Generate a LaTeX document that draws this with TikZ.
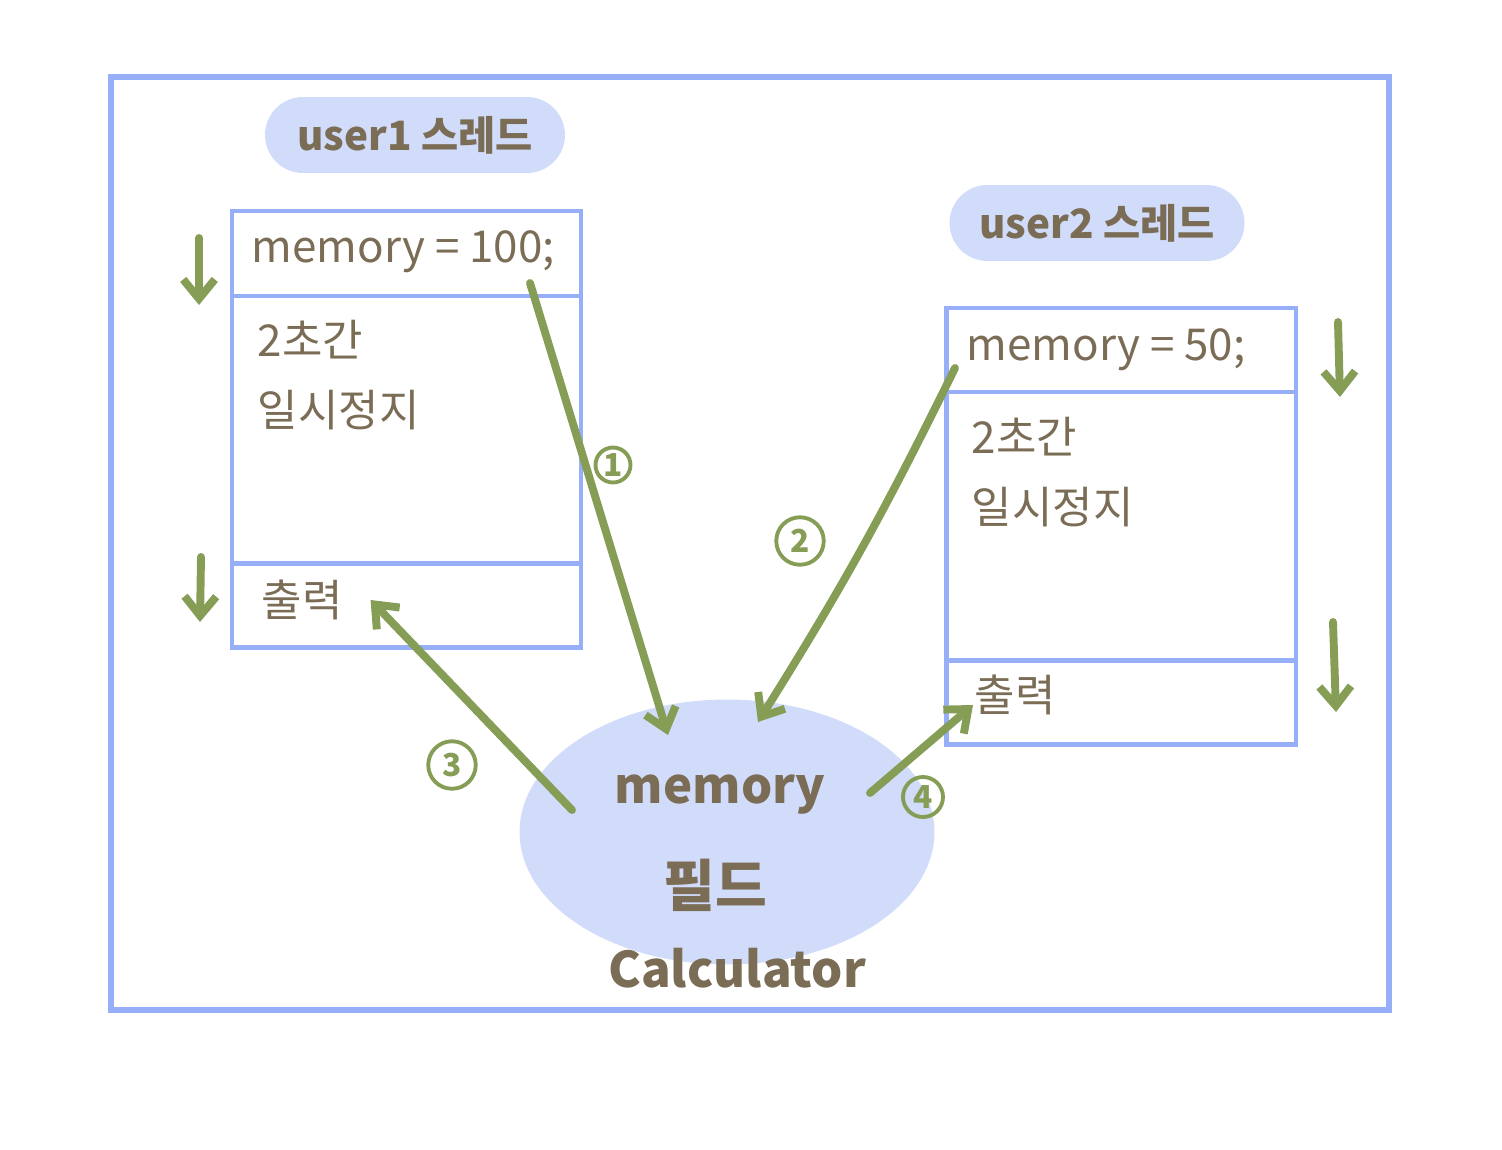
\documentclass[tikz,border=0pt]{standalone}
\usepackage{fontspec}
\setmainfont{Noto Sans CJK KR}
\usepackage{tikz}
\usetikzlibrary{shapes.geometric, positioning, calc, arrows.meta}
\definecolor{frame_blue}{RGB}{151, 174, 248}
\definecolor{soft_blue}{RGB}{209, 220, 250}
\definecolor{pen_green}{RGB}{134, 157, 86}
\definecolor{pen_brown}{RGB}{122, 108, 85}

\begin{document}
\begin{tikzpicture}[
        x=0.02cm, y=-0.02cm,
        every node/.style={inner sep=2pt, text=pen_brown},
        seg/.style={draw=frame_blue, line width=2.8pt, outer sep=0pt, minimum width=6.98cm},
        pill/.style={fill=soft_blue, rounded corners=0.76cm, minimum height=1.52cm, font=\fontsize{23}{28}\selectfont\bfseries},
        txt/.style={anchor=west, font=\fontsize{25}{30}\selectfont},
        big/.style={font=\fontsize{28}{34}\selectfont\bfseries},
        flow/.style={draw=pen_green, line width=4.5pt, line cap=round,
            -{Straight Barb[length=11pt, width=18pt, line width=4.5pt]}},
        num/.style={circle, draw=pen_green, line width=2.2pt, text=pen_green,
            inner sep=1pt, font=\fontsize{18}{20}\selectfont\bfseries}
    ]
        \useasboundingbox (0,0) rectangle (1502,1150);

        % -------- Cornice --------
        \draw[frame_blue, line width=3.4pt] (111,77) rectangle (1389,1010);

        % -------- Etichette dei thread --------
        \node[pill, minimum width=6.0cm] (user1) at (415,135) {user1 스레드};
        \node[pill, minimum width=5.9cm] (user2) at (1097,223) {user2 스레드};

        % -------- Thread 1 --------
        \node[seg, minimum height=1.7cm] (top1) at (406.5,253.5) {};
        \node[seg, minimum height=5.36cm, below=0pt of top1] (mid1) {};
        \node[seg, minimum height=1.68cm, below=0pt of mid1] (bot1) {};
        \node[txt] (set1) at (248,252) {memory = 100;};
        \node[txt] (wait1) at (254,340) {2초간};
        \node[txt] (pause1) at (254,410) {일시정지};
        \node[txt] (out1) at (258,600) {출력};

        % -------- Thread 2 --------
        \node[seg, minimum width=7cm, minimum height=1.68cm] (top2) at (1121,350) {};
        \node[seg, minimum width=7cm, minimum height=5.38cm, below=0pt of top2] (mid2) {};
        \node[seg, minimum width=7cm, minimum height=1.68cm, below=0pt of mid2] (bot2) {};
        \node[txt] (set2) at (963,350) {memory = 50;};
        \node[txt] (wait2) at (968,437) {2초간};
        \node[txt] (pause2) at (968,507) {일시정지};
        \node[txt] (out2) at (971,695) {출력};

        % -------- Campo condiviso --------
        \node[ellipse, fill=soft_blue, minimum width=8.3cm, minimum height=5.3cm] (mem) at (727,832) {};
        \node[big] (field) at (720,795) {memory};
        \node[big, font=\fontsize{32}{38}\selectfont\bfseries] (kind) at (715,885) {필드};
        \node[big] (cls) at (737,968) {Calculator};

        % -------- Frecce di esecuzione --------
        \coordinate (s1a) at (199,238); \coordinate (e1a) at (199,305);
        \coordinate (s1b) at (201,557); \coordinate (e1b) at (200,622);
        \coordinate (s2a) at (1338,322); \coordinate (e2a) at (1340,397);
        \coordinate (s2b) at (1333,622); \coordinate (e2b) at (1336,712);
        \foreach \s/\e in {s1a/e1a, s1b/e1b, s2a/e2a, s2b/e2b}{
            \draw[flow] (\s) -- (\e);
        }

        % -------- Accessi al campo --------
        \coordinate (w1) at (530,283);
        \coordinate (w2) at (955,368);
        \draw[flow] (w1) -- ($(mem.center)+(-59,-97)$);
        \draw[flow] (w2) to[bend left=3] ($(mem.center)+(31,-110)$);
        \draw[flow] ($(mem.center)+(-155,-22)$) -- ($(out1.east)+(24,0)$);
        \draw[flow] ($(mem.center)+(143,-39)$) -- ($(out2.west)+(2,10)$);

        \node[num, minimum size=0.7cm] (n1) at (613,465) {1};
        \node[num, minimum size=0.95cm] (n2) at (800,541) {2};
        \node[num, minimum size=0.95cm] (n3) at (452,765) {3};
        \node[num, minimum size=0.8cm] (n4) at (923,797) {4};

    \end{tikzpicture}
\end{document}
